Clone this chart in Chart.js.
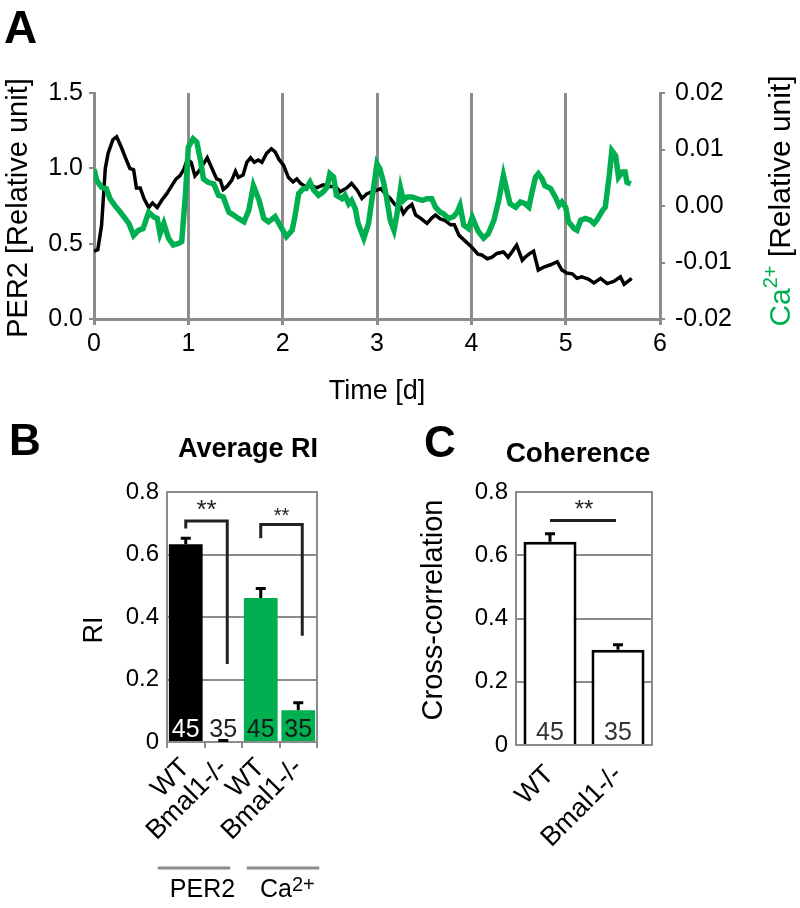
<!DOCTYPE html>
<html>
<head>
<meta charset="utf-8">
<script src="https://cdn.jsdelivr.net/npm/chart.js@4.4.1/dist/chart.umd.min.js"></script>
<style>
  html, body { margin: 0; padding: 0; background: #fff; }
  #wrap { position: relative; width: 800px; height: 908px; }
  canvas { position: absolute; }
</style>
</head>
<body>
<div id="wrap">
  <canvas id="trace-chart" width="800" height="412" style="left:0;top:0"></canvas>
  <canvas id="ri-chart" width="400" height="508" style="left:0;top:400px"></canvas>
  <canvas id="coh-chart" width="400" height="508" style="left:400px;top:400px"></canvas>
</div>
<script>
// ----- data: panel A (time in days) -----
const per2Time = [0.00, 0.04, 0.08, 0.12, 0.15, 0.20, 0.24, 0.29, 0.34, 0.38, 0.42, 0.45, 0.49, 0.53, 0.58,
  0.62, 0.67, 0.72, 0.77, 0.82, 0.87, 0.91, 0.95, 0.99, 1.03, 1.07, 1.11, 1.16, 1.20, 1.25, 1.30, 1.34,
  1.37, 1.41, 1.46, 1.50, 1.53, 1.58, 1.62, 1.66, 1.70, 1.74, 1.78, 1.83, 1.88, 1.92, 1.96, 2.01, 2.06,
  2.11, 2.15, 2.19, 2.24, 2.29, 2.36, 2.43, 2.50, 2.56, 2.61, 2.68, 2.73, 2.79, 2.84, 2.89, 2.95, 3.00,
  3.04, 3.09, 3.14, 3.19, 3.25, 3.28, 3.32, 3.37, 3.41, 3.46, 3.53, 3.58, 3.62, 3.67, 3.72, 3.78, 3.82,
  3.87, 3.93, 4.00, 4.07, 4.11, 4.17, 4.22, 4.27, 4.34, 4.39, 4.43, 4.48, 4.54, 4.57, 4.62, 4.66, 4.71,
  4.77, 4.84, 4.91, 4.96, 5.01, 5.07, 5.12, 5.17, 5.24, 5.30, 5.37, 5.44, 5.51, 5.58, 5.62, 5.70];
const per2Values = [0.45, 0.46, 0.62, 1.00, 1.10, 1.19, 1.21, 1.14, 1.06, 1.00, 0.99, 0.87, 0.87, 0.80, 0.74,
  0.77, 0.74, 0.79, 0.83, 0.88, 0.93, 0.95, 0.99, 1.06, 1.04, 0.95, 0.98, 1.03, 1.07, 1.00, 0.93, 0.92,
  0.86, 0.88, 0.92, 0.98, 0.94, 0.955, 1.04, 1.07, 1.04, 1.055, 1.04, 1.10, 1.13, 1.11, 1.06, 1.02, 0.94,
  0.91, 0.93, 0.90, 0.88, 0.89, 0.87, 0.89, 0.88, 0.88, 0.845, 0.87, 0.90, 0.855, 0.80, 0.83, 0.845, 0.855,
  0.865, 0.83, 0.80, 0.76, 0.745, 0.70, 0.735, 0.76, 0.69, 0.67, 0.635, 0.67, 0.69, 0.665, 0.655, 0.625, 0.625,
  0.555, 0.52, 0.48, 0.43, 0.425, 0.40, 0.41, 0.435, 0.445, 0.41, 0.445, 0.49, 0.39, 0.41, 0.435, 0.45, 0.325,
  0.345, 0.36, 0.38, 0.325, 0.305, 0.30, 0.27, 0.28, 0.265, 0.24, 0.27, 0.235, 0.25, 0.28, 0.23, 0.27];

const caTime = [0.00, 0.03, 0.08, 0.13, 0.17, 0.22, 0.28, 0.33, 0.37, 0.42, 0.47, 0.52, 0.58, 0.63, 0.67,
  0.70, 0.74, 0.79, 0.84, 0.90, 0.93, 0.97, 1.00, 1.05, 1.09, 1.13, 1.16, 1.21, 1.27, 1.32, 1.37, 1.43,
  1.48, 1.53, 1.59, 1.64, 1.69, 1.75, 1.80, 1.85, 1.92, 1.97, 2.04, 2.10, 2.13, 2.17, 2.22, 2.25, 2.29,
  2.33, 2.38, 2.43, 2.47, 2.50, 2.54, 2.57, 2.63, 2.66, 2.70, 2.73, 2.77, 2.80, 2.86, 2.91, 2.96, 3.00,
  3.03, 3.07, 3.10, 3.14, 3.18, 3.21, 3.25, 3.28, 3.32, 3.37, 3.42, 3.48, 3.53, 3.58, 3.62, 3.67, 3.70,
  3.76, 3.81, 3.85, 3.88, 3.92, 3.97, 4.01, 4.07, 4.13, 4.18, 4.24, 4.29, 4.34, 4.38, 4.41, 4.47, 4.52,
  4.57, 4.61, 4.64, 4.68, 4.71, 4.75, 4.78, 4.84, 4.89, 4.93, 4.96, 5.00, 5.03, 5.09, 5.12, 5.16, 5.21,
  5.26, 5.30, 5.33, 5.39, 5.42, 5.46, 5.49, 5.53, 5.56, 5.60, 5.63, 5.65, 5.69];
const caValues = [0.0065, 0.0045, 0.0033, 0.0031, 0.0013, 0.0001, -0.0011, -0.0022, -0.0031, -0.0052, -0.0043,
  -0.0040, -0.0011, -0.0019, -0.0022, -0.0049, -0.0031, -0.0057, -0.0069, -0.0066, -0.0063, 0.0022, 0.0104,
  0.0119, 0.0113, 0.0080, 0.0048, 0.0042, 0.0039, 0.0019, 0.0016, -0.0011, -0.0016, -0.0022, -0.0028,
  -0.0008, 0.0036, 0.0010, -0.0022, -0.0028, -0.0019, -0.0034, -0.0054, -0.0043, -0.0019, 0.0022, 0.0031,
  0.0031, 0.0042, 0.0028, 0.0019, 0.0025, 0.0033, 0.0057, 0.0051, 0.0019, 0.0013, 0.0019, 0.0004, 0.0010,
  -0.0005, -0.0031, -0.0057, -0.0031, 0.0028, 0.0075, 0.0066, 0.0042, 0.0016, -0.0025, -0.0043, -0.0016,
  0.0031, 0.0010, 0.0016, 0.0016, 0.0013, 0.0010, 0.0013, 0.0013, -0.0002, -0.0011, -0.0013, -0.0022,
  -0.0019, -0.0011, 0.0001, -0.0034, -0.0040, -0.0020, -0.0044, -0.0057, -0.0049, -0.0025, 0.0010, 0.0054,
  0.0025, 0.0004, -0.0002, 0.0007, 0.0004, -0.0002, 0.0022, 0.0051, 0.0057, 0.0048, 0.0036, 0.0031, 0.0016,
  0.0001, 0.0007, -0.0002, -0.0028, -0.0040, -0.0043, -0.0025, -0.0022, -0.0025, -0.0031, -0.0025, -0.0008,
  -0.0002, 0.0051, 0.0098, 0.0089, 0.0051, 0.0060, 0.0060, 0.0042, 0.0039];

const per2Ticks = [0, 0.5, 1.0, 1.5];
const caTicks = [-0.02, -0.01, 0, 0.01, 0.02];
const dayTicks = [0, 1, 2, 3, 4, 5, 6];

// ----- data: panel B -----
const riGroups = ['WT', 'Bmal1-/-', 'WT', 'Bmal1-/-'];
const riValues = [0.633, 0.003, 0.461, 0.102];
const riErrors = [0.019, 0.002, 0.03, 0.024];
const riCounts = ['45', '35', '45', '35'];
// brackets: [left index, right index, top, left leg bottom, right leg bottom]
const riBrackets = [[0, 1, 0.707, 0.683, 0.25], [2, 3, 0.696, 0.652, 0.34]];

// ----- data: panel C -----
const cohGroups = ['WT', 'Bmal1-/-'];
const cohValues = [0.643, 0.301];
const cohErrors = [0.025, 0.016];
const cohCounts = ['45', '35'];
const cohSigLevel = 0.71;

const barTicks = [0, 0.2, 0.4, 0.6, 0.8];

const GREEN = '#00b050';
const GREY = '#8c8c8c';
const FONT = '"Liberation Sans", Arial, Helvetica, sans-serif';

Chart.defaults.font.family = FONT;
Chart.defaults.color = '#000';

// draw text rotated -90deg, parts = [{text, size, color, rise, bold}]
function drawVertical(ctx, parts, cx, cy) {
  ctx.save();
  ctx.translate(cx, cy);
  ctx.rotate(-Math.PI / 2);
  ctx.textBaseline = 'alphabetic';
  ctx.textAlign = 'left';
  let total = 0;
  parts.forEach(p => {
    ctx.font = `${p.bold ? 'bold ' : ''}${p.size}px ${FONT}`;
    p.w = ctx.measureText(p.text).width;
    total += p.w;
  });
  let x = -total / 2;
  parts.forEach(p => {
    ctx.font = `${p.bold ? 'bold ' : ''}${p.size}px ${FONT}`;
    ctx.fillStyle = p.color || '#000';
    ctx.fillText(p.text, x, -(p.rise || 0));
    x += p.w;
  });
  ctx.restore();
}

function drawText(ctx, text, x, y, size, opts = {}) {
  ctx.save();
  ctx.font = `${opts.bold ? 'bold ' : ''}${size}px ${FONT}`;
  ctx.fillStyle = opts.color || '#000';
  ctx.textAlign = opts.align || 'center';
  ctx.textBaseline = opts.baseline || 'alphabetic';
  ctx.fillText(text, x, y);
  ctx.restore();
}

// ===== Panel A: traces =====
const tracePlugin = {
  id: 'traceText',
  afterDraw(chart) {
    const ctx = chart.ctx;
    const area = chart.chartArea;
    drawText(ctx, 'A', 4, 43, 46, { bold: true, align: 'left' });
    drawText(ctx, 'Time [d]', (area.left + area.right) / 2, 399, 27);
    drawVertical(ctx, [{ text: 'PER2 [Relative unit]', size: 29 }], 27, 208);
    drawVertical(ctx, [
      { text: 'Ca', size: 30, color: GREEN },
      { text: '2+', size: 20, color: GREEN, rise: 13 },
      { text: ' [Relative unit]', size: 30 }
    ], 790, 201);
  }
};

new Chart(document.getElementById('trace-chart'), {
  type: 'line',
  data: {
    datasets: [{
      label: 'Ca2+',
      data: caTime.map((t, i) => ({ x: t, y: caValues[i] })),
      borderColor: GREEN,
      borderWidth: 5.5,
      pointRadius: 0,
      tension: 0,
      yAxisID: 'y2'
    }, {
      label: 'PER2',
      data: per2Time.map((t, i) => ({ x: t, y: per2Values[i] })),
      borderColor: '#000',
      borderWidth: 3.5,
      pointRadius: 0,
      tension: 0,
      yAxisID: 'y'
    }]
  },
  options: {
    responsive: false,
    animation: false,
    layout: { padding: { top: 93 } },
    plugins: { legend: { display: false }, tooltip: { enabled: false } },
    scales: {
      x: {
        type: 'linear',
        min: 0, max: 6,
        afterBuildTicks: s => { s.ticks = dayTicks.map(v => ({ value: v })); },
        afterFit: s => { s.height = 93; },
        grid: { color: GREY, lineWidth: 3, tickLength: 6, drawTicks: true },
        border: { color: GREY, width: 3 },
        ticks: { font: { size: 25 }, padding: 4, color: '#000' }
      },
      y: {
        position: 'left',
        min: 0, max: 1.5,
        afterBuildTicks: s => { s.ticks = per2Ticks.map(v => ({ value: v })); },
        afterFit: s => { s.width = 94; },
        grid: { drawOnChartArea: false, color: GREY, lineWidth: 2, tickLength: 5 },
        border: { color: GREY, width: 3 },
        ticks: { font: { size: 25 }, padding: 6, callback: v => v.toFixed(1) }
      },
      y2: {
        position: 'right',
        min: -0.02, max: 0.02,
        afterBuildTicks: s => { s.ticks = caTicks.map(v => ({ value: v })); },
        afterFit: s => { s.width = 140; },
        grid: { drawOnChartArea: false, color: GREY, lineWidth: 2, tickLength: 5 },
        border: { color: GREY, width: 3 },
        ticks: { font: { size: 25 }, padding: 10, callback: v => v.toFixed(2) }
      }
    }
  },
  plugins: [tracePlugin]
});

// ===== shared bar helpers =====
function drawFrame(chart) {
  const ctx = chart.ctx;
  const a = chart.chartArea;
  ctx.save();
  ctx.strokeStyle = GREY;
  ctx.lineWidth = 2;
  ctx.beginPath();
  ctx.moveTo(a.left, a.top);
  ctx.lineTo(a.right, a.top);
  ctx.lineTo(a.right, a.bottom);
  ctx.stroke();
  ctx.restore();
}

function drawErrorBars(chart, values, errors) {
  const ctx = chart.ctx;
  const yScale = chart.scales.y;
  const bars = chart.getDatasetMeta(0).data;
  ctx.save();
  ctx.strokeStyle = '#000';
  ctx.lineWidth = 3;
  bars.forEach((bar, i) => {
    const top = yScale.getPixelForValue(values[i] + errors[i]);
    ctx.beginPath();
    ctx.moveTo(bar.x, bar.y);
    ctx.lineTo(bar.x, top);
    ctx.moveTo(bar.x - 5, top);
    ctx.lineTo(bar.x + 5, top);
    ctx.stroke();
  });
  ctx.restore();
}

function drawCounts(chart, counts, colors) {
  const yScale = chart.scales.y;
  const bars = chart.getDatasetMeta(0).data;
  const y = yScale.getPixelForValue(0) - 5;
  bars.forEach((bar, i) => {
    drawText(chart.ctx, counts[i], bar.x, y, 25, { color: colors[i] });
  });
}

// ===== Panel B: Average RI =====
const riPlugin = {
  id: 'riExtras',
  afterDatasetsDraw(chart) {
    const ctx = chart.ctx;
    const yScale = chart.scales.y;
    const bars = chart.getDatasetMeta(0).data;
    drawFrame(chart);
    drawErrorBars(chart, riValues, riErrors);
    drawCounts(chart, riCounts, ['#fff', '#222', '#1a1a1a', '#1a1a1a']);

    // significance brackets
    ctx.save();
    ctx.strokeStyle = '#222';
    ctx.lineWidth = 3;
    riBrackets.forEach((b, k) => {
      const x1 = bars[b[0]].x;
      const x2 = bars[b[1]].x + 4;
      const top = yScale.getPixelForValue(b[2]);
      ctx.beginPath();
      ctx.moveTo(x1, yScale.getPixelForValue(b[3]));
      ctx.lineTo(x1, top);
      ctx.lineTo(x2, top);
      ctx.lineTo(x2, yScale.getPixelForValue(b[4]));
      ctx.stroke();
      drawText(ctx, '**', (x1 + x2) / 2, top - 3, k === 0 ? 26 : 20, { color: '#222' });
    });
    ctx.restore();
  },
  afterDraw(chart) {
    const ctx = chart.ctx;
    const bars = chart.getDatasetMeta(0).data;
    drawText(ctx, 'B', 9, 55, 44, { bold: true, align: 'left' });
    drawText(ctx, 'Average RI', 248, 57, 27, { bold: true });
    drawVertical(ctx, [{ text: 'RI', size: 27 }], 102, 230);

    // group underlines
    ctx.save();
    ctx.strokeStyle = GREY;
    ctx.lineWidth = 3;
    ctx.beginPath();
    ctx.moveTo(bars[0].x - 28, 468);
    ctx.lineTo(bars[1].x + 7, 468);
    ctx.moveTo(bars[2].x - 14, 468);
    ctx.lineTo(bars[3].x + 21, 468);
    ctx.stroke();
    ctx.restore();
    drawText(ctx, 'PER2', (bars[0].x + bars[1].x) / 2 - 2, 497, 25);
    ctx.save();
    ctx.font = `25px ${FONT}`;
    const caW = ctx.measureText('Ca').width;
    ctx.restore();
    drawText(ctx, 'Ca', 260, 497, 25, { align: 'left' });
    drawText(ctx, '2+', 260 + caW, 491, 20, { align: 'left' });
  }
};

new Chart(document.getElementById('ri-chart'), {
  type: 'bar',
  data: {
    labels: riGroups,
    datasets: [{
      data: riValues,
      backgroundColor: ['#000', '#fff', GREEN, GREEN],
      borderWidth: 0,
      categoryPercentage: 1,
      barPercentage: 0.9
    }]
  },
  options: {
    responsive: false,
    animation: false,
    layout: { padding: { top: 92, right: 83 } },
    plugins: { legend: { display: false }, tooltip: { enabled: false } },
    scales: {
      x: {
        afterFit: s => { s.height = 166; },
        grid: { drawOnChartArea: false, color: GREY, lineWidth: 2, tickLength: 6, offset: true },
        border: { color: GREY, width: 2 },
        ticks: { font: { size: 27 }, minRotation: 45, maxRotation: 45, autoSkip: false, padding: 4 }
      },
      y: {
        min: 0, max: 0.8,
        afterBuildTicks: s => { s.ticks = barTicks.map(v => ({ value: v })); },
        afterFit: s => { s.width = 167; },
        grid: { color: GREY, lineWidth: 2, drawTicks: false },
        border: { color: GREY, width: 2 },
        ticks: { font: { size: 24 }, padding: 8, callback: v => v === 0 ? '0' : v.toFixed(1) }
      }
    }
  },
  plugins: [riPlugin]
});

// ===== Panel C: Coherence =====
const cohPlugin = {
  id: 'cohExtras',
  afterDatasetsDraw(chart) {
    const ctx = chart.ctx;
    const yScale = chart.scales.y;
    const bars = chart.getDatasetMeta(0).data;
    drawFrame(chart);
    drawErrorBars(chart, cohValues, cohErrors);
    drawCounts(chart, cohCounts, ['#333', '#333']);

    const y = yScale.getPixelForValue(cohSigLevel);
    ctx.save();
    ctx.strokeStyle = '#222';
    ctx.lineWidth = 3;
    ctx.beginPath();
    ctx.moveTo(bars[0].x, y);
    ctx.lineTo(bars[1].x - 2, y);
    ctx.stroke();
    ctx.restore();
    drawText(ctx, '**', (bars[0].x + bars[1].x) / 2, y - 3, 24, { color: '#222' });
  },
  afterDraw(chart) {
    const ctx = chart.ctx;
    drawText(ctx, 'C', 24, 57, 44, { bold: true, align: 'left' });
    drawText(ctx, 'Coherence', 178, 62, 28, { bold: true });
    drawVertical(ctx, [{ text: 'Cross-correlation', size: 29 }], 42, 210);
  }
};

new Chart(document.getElementById('coh-chart'), {
  type: 'bar',
  data: {
    labels: cohGroups,
    datasets: [{
      data: cohValues,
      backgroundColor: '#fff',
      borderColor: '#000',
      borderWidth: 3,
      categoryPercentage: 1,
      barPercentage: 0.78
    }]
  },
  options: {
    responsive: false,
    animation: false,
    layout: { padding: { top: 92, right: 148 } },
    plugins: { legend: { display: false }, tooltip: { enabled: false } },
    scales: {
      x: {
        afterFit: s => { s.height = 163; },
        grid: { display: false },
        border: { color: GREY, width: 2 },
        ticks: { font: { size: 27 }, minRotation: 45, maxRotation: 45, autoSkip: false, padding: 6 }
      },
      y: {
        min: 0, max: 0.8,
        afterBuildTicks: s => { s.ticks = barTicks.map(v => ({ value: v })); },
        afterFit: s => { s.width = 116; },
        grid: { color: GREY, lineWidth: 2, drawTicks: false },
        border: { color: GREY, width: 2 },
        ticks: { font: { size: 24 }, padding: 8, callback: v => v === 0 ? '0' : v.toFixed(1) }
      }
    }
  },
  plugins: [cohPlugin]
});
</script>
</body>
</html>
